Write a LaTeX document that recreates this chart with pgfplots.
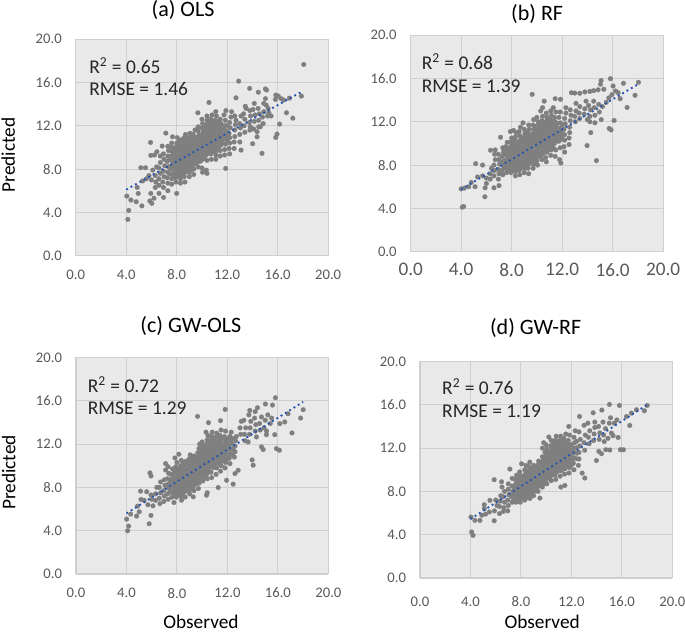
\documentclass[border=0pt]{standalone}
\usepackage{fontspec}
\setmainfont{Carlito}
\usepackage{pgfplots}
\pgfplotsset{compat=1.18}
\definecolor{panelbg}{HTML}{E9E9E9}
\definecolor{gridc}{HTML}{CFCFCF}
\definecolor{tickc}{HTML}{595959}
\definecolor{ptc}{HTML}{7F7F7F}
\definecolor{trend}{HTML}{2454B0}
\tikzset{note/.style={anchor=west, inner sep=0pt, font=\fontsize{14.6}{17}\selectfont, text=black!85}}
\pgfplotsset{
  panel/.style={
    scale only axis, width=189.3pt, height=162.4pt,
    xmin=0, xmax=20, ymin=0, ymax=20,
    xtick={0,4,8,12,16,20}, ytick={0,4,8,12,16,20},
    axis background/.style={fill=panelbg},
    grid=major, grid style={gridc, line width=0.8pt},
    axis line style={draw=gridc, line width=0.8pt},
    axis lines=left, axis line style={-},
    major tick length=0pt, clip=false, clip marker paths=true,
    every axis title shift=0pt,
    tick label style={text=tickc, font=\fontsize{11}{13}\selectfont},
    /pgf/number format/assume math mode=true,
    /pgf/number format/fixed, /pgf/number format/fixed zerofill, /pgf/number format/precision=1,
    y tick label style={xshift=-7pt},
    x tick label style={yshift=-7pt},
    title style={font=\fontsize{16.5}{19}\selectfont, anchor=center},
    xlabel style={font=\fontsize{14.5}{17}\selectfont, anchor=center, inner sep=0pt},
    ylabel style={font=\fontsize{14.5}{17}\selectfont, anchor=center},
  },
  pts/.style={only marks, color=ptc, mark=*, mark size=1.8pt, mark options={solid, fill=ptc, draw=ptc, line width=0.1pt, line join=round}},
  tl/.style={no marks, color=trend, line width=1.4pt, dash pattern=on 1.4pt off 2.4pt},
}
\begin{document}
\begin{tikzpicture}[x=1pt,y=1pt]
\useasboundingbox (0,0) rectangle (513.75,474.75);
% (a) OLS
\begin{axis}[panel, at={(56.8pt,283pt)}, anchor=south west,
  title={(a) OLS}, title style={at={(axis description cs:0.425,1.134)}},
  ylabel={Predicted}, ylabel style={at={(axis description cs:-0.267,0.465)}}]
\addplot[pts] coordinates {
(18.07,17.66)(12.91,16.12)(13.78,15.45)(14.47,15.1)(15.03,15.4)(15.12,15.3)(12.7,14.58)(10.56,14.15)(9.68,13.2)(5.93,10.46)(7.14,11.32)(7.67,10.98)(4.05,5.5)(4.37,5.14)(4.79,4.98)(4.2,4.18)(4.13,3.35)(5.24,4.6)(4.87,6.3)(4.95,5.75)(5.95,5.75)(5.87,5.05)(6.03,4.83)(6.2,5.3)(6.6,5.75)(6.96,5.38)(7.3,6.0)(8.0,5.75)(5.16,8.12)(5.53,8.12)(5.95,9.26)(6.24,9.3)(6.43,9.6)(6.85,10.12)(15.85,10.92)(15.95,11.23)(16.16,12.15)(14.76,9.45)(14.02,10.34)(11.88,8.06)(13.1,9.75)(17.2,12.7)(16.7,13.2)(17.88,14.74)(16.93,14.55)(15.85,14.83)(15.82,14.43)(16.27,14.5)(16.48,14.37)(16.05,14.75)(15.3,13.2)(15.48,12.9)(14.37,10.98)(14.37,11.45)(14.63,11.9)(13.84,11.9)(13.44,13.8)(14.15,14.06)(14.9,14.06)(15.03,14.5)(15.1,13.9)
(5.3,6.9)(5.6,7.1)(5.8,7.4)(6.0,7.0)(6.1,7.9)(6.3,6.3)(6.35,6.8)(6.3,7.4)(6.4,8.2)(6.6,6.5)(6.6,7.1)(6.7,7.6)(6.6,8.1)(6.7,8.6)(6.7,9.2)(6.95,6.3)(6.9,6.8)(7.0,7.3)(6.95,7.8)(7.05,8.3)(7.0,8.9)(6.95,9.4)(7.3,6.7)(7.25,7.2)(7.3,7.7)(7.35,8.2)(7.25,8.7)(7.3,9.2)(7.35,9.7)(7.3,10.1)
(7.6,6.6)(7.6,7.1)(7.65,7.5)(7.55,8.0)(7.65,8.4)(7.6,8.8)(7.55,9.2)(7.65,9.6)(7.6,10.0)(7.6,10.4)
(7.95,6.8)(7.9,7.2)(8.0,7.6)(7.95,8.0)(8.0,8.4)(7.9,8.8)(8.0,9.2)(7.95,9.6)(7.9,10.0)(8.0,10.4)(8.05,10.9)
(8.3,6.7)(8.3,7.1)(8.35,7.5)(8.25,7.9)(8.35,8.3)(8.3,8.7)(8.25,9.1)(8.35,9.5)(8.3,9.9)(8.3,10.3)(8.35,10.7)
(8.65,6.8)(8.6,7.3)(8.7,7.7)(8.65,8.1)(8.6,8.5)(8.7,8.9)(8.65,9.3)(8.6,9.7)(8.7,10.1)(8.65,10.5)(8.6,10.9)(8.7,11.2)
(9.0,7.3)(9.0,7.7)(9.05,8.1)(8.95,8.5)(9.05,8.9)(9.0,9.3)(8.95,9.7)(9.05,10.1)(9.0,10.5)(8.95,10.9)(9.05,11.3)
(9.35,7.5)(9.35,8.0)(9.3,8.4)(9.4,8.8)(9.3,9.2)(9.4,9.6)(9.35,10.0)(9.3,10.4)(9.4,10.8)(9.3,11.2)(9.45,11.6)
(9.7,8.2)(9.7,8.7)(9.75,9.1)(9.65,9.5)(9.75,9.9)(9.7,10.3)(9.65,10.7)(9.75,11.1)(9.7,11.5)(9.7,11.9)
(10.05,7.7)(10.0,8.1)(10.05,8.9)(10.0,9.4)(10.1,9.8)(10.0,10.2)(10.05,10.6)(10.0,11.0)(10.1,11.4)(10.0,11.8)(10.05,12.2)(10.0,12.6)
(10.4,7.6)(10.35,7.9)(10.4,8.8)(10.35,9.3)(10.45,9.7)(10.35,10.1)(10.4,10.5)(10.35,10.9)(10.45,11.3)(10.4,11.7)(10.35,12.1)(10.4,12.5)(10.4,12.9)
(10.75,8.9)(10.7,9.4)(10.8,9.8)(10.7,10.2)(10.8,10.6)(10.75,11.0)(10.7,11.4)(10.8,11.8)(10.75,12.2)(10.7,12.6)(10.8,13.0)
(11.1,8.9)(11.1,9.3)(11.15,9.7)(11.05,10.1)(11.15,10.5)(11.1,10.9)(11.05,11.3)(11.15,11.7)(11.1,12.1)(11.05,12.5)(11.15,12.9)(11.1,13.3)
(11.45,9.2)(11.45,9.7)(11.5,10.2)(11.4,10.6)(11.5,11.0)(11.45,11.4)(11.4,11.8)(11.5,12.2)(11.45,12.6)
(11.8,9.3)(11.8,9.8)(11.85,10.3)(11.75,10.8)(11.85,11.2)(11.8,11.6)(11.8,12.0)(11.85,12.5)(11.75,13.0)(11.9,13.4)
(12.2,9.4)(12.15,9.9)(12.2,10.4)(12.2,10.9)(12.15,11.3)(12.25,11.8)(12.2,12.3)(12.3,12.8)(12.35,13.3)
(12.55,9.9)(12.55,10.5)(12.6,11.0)(12.6,11.6)(12.65,12.1)(12.7,12.5)(12.6,12.9)
(13.0,10.5)(13.0,11.2)(13.05,11.8)(13.0,12.2)(13.1,12.9)(13.4,11.4)(13.35,12.0)(13.4,12.6)(13.3,13.1)(13.5,13.6)
(13.8,11.6)(13.75,12.3)(13.85,12.9)(13.8,13.4)(14.1,11.7)(14.15,12.4)(14.2,13.0)(14.05,13.5)(14.5,11.9)(14.5,12.5)(14.55,13.1)(14.45,13.6)(14.85,12.2)(14.8,12.8)(14.9,13.3)(15.2,12.9)(15.25,13.6)
(7.45,7.55)(7.42,8.2)(7.48,8.95)(7.78,7.38)(7.82,7.82)(7.76,8.22)(7.8,8.62)(7.84,9.02)(7.77,9.42)(7.8,9.82)(8.14,7.32)(8.18,7.72)(8.12,8.13)(8.16,8.52)(8.11,8.93)(8.17,9.31)(8.13,9.72)(8.15,10.12)(8.18,10.52)(8.48,7.52)(8.52,7.92)(8.47,8.33)(8.51,8.72)(8.49,9.12)(8.53,9.51)(8.48,9.92)(8.5,10.32)(8.83,7.92)(8.87,8.32)(8.82,8.72)(8.86,9.12)(8.84,9.53)(8.88,9.91)(8.83,10.32)(8.85,10.72)(9.18,7.93)(9.22,8.32)(9.17,8.73)(9.21,9.12)(9.19,9.52)(9.23,9.92)(9.18,10.33)(9.2,10.72)(9.22,11.12)(9.53,8.52)(9.57,8.93)(9.52,9.32)(9.56,9.73)(9.54,10.12)(9.58,10.53)(9.53,10.92)(9.88,8.72)(9.92,9.13)(9.87,9.52)(9.91,9.93)(9.89,10.32)(9.93,10.73)(9.88,11.12)(10.18,9.02)(10.22,9.43)(10.17,9.82)(10.21,10.23)(10.19,10.62)(10.23,11.03)(10.18,11.42)(10.2,11.82)(10.53,9.52)(10.57,9.93)(10.52,10.32)(10.56,10.73)(10.54,11.12)(10.58,11.53)(10.53,11.92)(10.55,12.32)(10.88,9.62)(10.92,10.03)(10.87,10.42)(10.91,10.83)(10.89,11.22)(10.93,11.63)(10.88,12.02)(10.9,12.42)(11.28,10.02)(11.32,10.43)(11.27,10.82)(11.31,11.23)(11.29,11.62)(11.33,12.03)(11.28,12.42)(11.58,10.42)(11.62,10.83)(11.57,11.22)(11.61,11.63)(11.59,12.02)(11.98,10.62)(12.02,11.03)(11.97,11.52)(12.01,12.02)
};
\addplot[tl] coordinates {(4,6.1)(18,15.2)};
\node[note] at (axis cs:1.06,17.54) {R\textsuperscript{2} = 0.65};
\node[note] at (axis cs:1.06,15.35) {RMSE = 1.46};
\end{axis}
% (b) RF
\begin{axis}[panel, at={(308pt,286pt)}, anchor=south west,
  title={(b) RF}, title style={at={(axis description cs:0.501,1.099)}},
  x tick label style={font=\fontsize{14.4}{17}\selectfont, yshift=2pt}]
\addplot[pts] coordinates {
(4.09,4.11)(4.2,4.17)(5.88,5.07)(4.0,5.8)(4.25,5.87)(4.6,6.0)(4.8,6.4)(5.1,6.0)(5.3,6.9)(5.7,7.0)(5.15,8.13)(5.7,8.0)(9.63,14.53)(14.72,8.41)(13.98,9.8)(14.27,11.0)(15.73,11.38)(15.88,11.25)(16.12,12.12)(17.15,13.32)(17.78,14.44)(18.05,15.64)(16.86,15.55)(15.83,15.98)(15.09,15.8)(15.04,15.46)(15.3,15.0)(16.04,15.3)(16.23,14.84)(16.44,14.68)(16.6,14.13)(12.74,14.68)(13.0,14.65)(13.4,14.63)(13.8,14.75)(14.2,14.8)(14.5,14.87)(14.85,14.95)(11.45,14.13)(11.87,14.07)(10.58,13.9)(7.12,10.57)(6.33,9.37)(6.7,9.4)(11.9,8.19)(15.7,14.2)(15.95,14.5)(15.5,13.8)(15.2,13.4)(14.95,12.9)(15.1,12.2)(14.6,11.9)(14.2,12.0)(14.0,12.2)(5.9,5.9)(6.0,6.3)(6.6,5.9)(7.0,6.1)(6.3,6.7)(6.0,6.8)
(6.3,7.2)(6.4,7.7)(6.6,7.0)(6.65,7.5)(6.6,8.0)(6.7,8.5)(6.65,9.0)(6.95,6.7)(7.0,7.2)(6.95,7.6)(7.05,8.1)(7.0,8.5)(6.95,9.0)(7.3,7.1)(7.25,7.5)(7.35,7.9)(7.3,8.3)(7.25,8.8)(7.35,9.2)(7.3,9.6)
(7.6,7.3)(7.6,7.7)(7.65,8.1)(7.55,8.5)(7.65,8.9)(7.6,9.3)(7.55,9.7)(7.65,10.1)(7.95,7.3)(7.9,7.7)(8.0,8.1)(7.95,8.5)(7.9,8.9)(8.0,9.3)(7.95,9.7)(7.9,10.1)(8.0,10.5)(7.9,11.1)(8.15,11.2)
(8.3,7.0)(8.3,7.4)(8.35,7.8)(8.25,8.2)(8.35,8.6)(8.3,9.0)(8.25,9.4)(8.35,9.8)(8.3,10.2)(8.3,10.6)(8.35,11.0)
(8.65,7.1)(8.6,7.5)(8.7,7.9)(8.65,8.3)(8.6,8.7)(8.7,9.1)(8.65,9.5)(8.6,9.9)(8.7,10.3)(8.65,10.7)(8.6,11.1)(8.7,11.5)(8.9,11.9)
(9.0,7.3)(9.05,7.7)(8.95,8.1)(9.05,8.5)(9.0,8.9)(8.95,9.3)(9.05,9.7)(9.0,10.1)(8.95,10.5)(9.05,10.9)(9.0,11.3)
(9.35,7.2)(9.3,7.7)(9.4,8.1)(9.3,8.5)(9.4,8.9)(9.35,9.3)(9.3,9.7)(9.4,10.1)(9.35,10.5)(9.3,10.9)(9.4,11.3)(9.35,11.7)
(9.7,7.7)(9.75,8.1)(9.65,8.5)(9.75,8.9)(9.7,9.3)(9.65,9.7)(9.75,10.1)(9.7,10.5)(9.65,10.9)(9.75,11.3)(9.7,11.7)(9.75,12.2)
(10.05,8.0)(10.0,8.4)(10.1,8.8)(10.0,9.2)(10.05,9.6)(10.0,10.0)(10.1,10.4)(10.0,10.8)(10.05,11.2)(10.0,11.6)(10.1,12.0)(10.0,12.4)
(10.4,8.5)(10.35,8.9)(10.45,9.3)(10.35,9.7)(10.4,10.1)(10.35,10.5)(10.45,10.9)(10.4,11.3)(10.35,11.7)(10.4,12.1)(10.45,12.5)(10.3,13.0)(10.45,13.3)
(10.75,8.3)(10.7,8.7)(10.8,9.2)(10.7,9.6)(10.8,10.0)(10.75,10.4)(10.7,10.8)(10.8,11.2)(10.75,11.6)(10.7,12.0)(10.8,12.4)(10.75,12.8)
(11.1,8.9)(11.15,9.4)(11.05,9.8)(11.15,10.2)(11.1,10.6)(11.05,11.0)(11.15,11.4)(11.1,11.8)(11.05,12.2)(11.15,12.6)(11.1,13.0)(11.3,13.3)
(11.45,8.8)(11.5,9.4)(11.4,10.0)(11.5,10.4)(11.45,10.8)(11.4,11.2)(11.5,11.6)(11.45,12.0)(11.4,12.4)(11.5,12.9)
(11.8,8.5)(11.85,9.6)(11.75,10.2)(11.85,10.6)(11.8,11.0)(11.8,11.4)(11.85,11.9)(11.75,12.4)(11.85,12.9)
(12.2,9.2)(12.15,9.7)(12.2,10.3)(12.2,10.8)(12.15,11.3)(12.25,11.8)(12.2,12.3)(12.3,12.8)(12.3,13.3)(12.55,9.9)(12.55,10.5)(12.6,11.0)(12.6,11.5)(12.65,12.1)(12.7,12.6)(12.65,13.1)
(13.05,12.0)(13.0,12.5)(13.1,13.0)(13.1,13.7)(13.4,12.3)(13.35,12.8)(13.4,13.4)(13.75,12.7)(13.8,13.2)(13.9,13.9)(14.2,12.5)(14.25,13.1)(14.1,13.5)(14.6,12.6)(14.55,13.3)(14.5,13.9)(14.9,13.6)
(7.45,7.75)(7.42,8.4)(7.48,9.0)(7.78,7.52)(7.82,7.92)(7.76,8.32)(7.8,8.72)(7.84,9.12)(7.77,9.52)(8.14,7.52)(8.18,7.92)(8.12,8.33)(8.16,8.72)(8.11,9.13)(8.17,9.51)(8.13,9.92)(8.15,10.32)(8.48,7.72)(8.52,8.12)(8.47,8.53)(8.51,8.92)(8.49,9.32)(8.53,9.71)(8.48,10.12)(8.83,7.72)(8.87,8.12)(8.82,8.52)(8.86,8.92)(8.84,9.33)(8.88,9.71)(8.83,10.12)(8.85,10.52)(9.18,7.83)(9.22,8.22)(9.17,8.63)(9.21,9.02)(9.19,9.42)(9.23,9.82)(9.18,10.23)(9.2,10.62)(9.22,11.02)(9.53,8.32)(9.57,8.73)(9.52,9.12)(9.56,9.53)(9.54,9.92)(9.58,10.33)(9.53,10.72)(9.88,8.52)(9.92,8.93)(9.87,9.32)(9.91,9.73)(9.89,10.12)(9.93,10.53)(9.88,10.92)(9.9,11.42)(10.18,8.82)(10.22,9.23)(10.17,9.62)(10.21,10.03)(10.19,10.42)(10.23,10.83)(10.18,11.22)(10.2,11.62)(10.53,9.12)(10.57,9.53)(10.52,9.92)(10.56,10.33)(10.54,10.72)(10.58,11.13)(10.53,11.52)(10.55,11.92)(10.88,9.42)(10.92,9.83)(10.87,10.22)(10.91,10.63)(10.89,11.02)(10.93,11.43)(10.88,11.82)(10.9,12.22)(11.28,9.62)(11.32,10.03)(11.27,10.42)(11.31,10.83)(11.29,11.22)(11.33,11.63)(11.28,12.02)(11.58,10.22)(11.62,10.63)(11.57,11.02)(11.61,11.43)(11.59,11.82)(11.98,10.42)(12.02,10.83)(11.97,11.22)(12.01,11.72)
};
\addplot[tl] coordinates {(4,5.75)(18,15.45)};
\node[note] at (axis cs:0.87,17.52) {R\textsuperscript{2} = 0.68};
\node[note] at (axis cs:0.87,15.24) {RMSE = 1.39};
\end{axis}
% (c) GW-OLS
\begin{axis}[panel, at={(57pt,44.25pt)}, anchor=south west,
  title={(c) GW-OLS}, title style={at={(axis description cs:0.455,1.147)}},
  xlabel={Observed}, xlabel style={at={(axis description cs:0.495,-0.223)}},
  ylabel={Predicted}, ylabel style={at={(axis description cs:-0.267,0.469)}}]
\addplot[pts] coordinates {
(4.01,5.07)(4.33,5.53)(4.17,4.42)(4.09,3.99)(4.8,5.35)(5.01,5.75)(4.88,6.27)(5.15,6.88)(5.12,7.65)(5.8,4.64)(5.94,5.41)(5.86,9.34)(5.94,9.06)(7.1,10.2)(8.15,11.06)(7.84,10.72)(9.63,14.56)(10.5,13.98)(11.45,14.16)(11.82,15.2)(15.8,16.28)(15.01,15.7)(15.57,15.6)(14.38,15.36)(13.77,15.11)(18.0,15.18)(17.8,14.4)(17.12,13.03)(16.8,14.8)(16.54,14.04)(16.15,13.89)(15.88,11.58)(16.12,11.43)(14.7,11.74)(14.83,11.5)(13.96,10.54)(14.04,10.05)(12.45,8.3)(12.85,9.58)(12.6,9.28)(11.93,8.66)(11.27,7.99)(10.4,7.5)(10.34,7.28)(9.29,7.13)(8.36,6.82)(7.76,6.6)(14.3,12.66)(13.64,12.2)(15.09,12.87)(15.75,12.87)(5.4,6.8)(5.7,6.4)(5.6,7.6)(5.95,7.3)(6.1,6.3)(6.0,6.9)
(6.3,6.8)(6.3,7.4)(6.4,8.0)(6.65,6.5)(6.6,7.0)(6.7,7.5)(6.6,8.0)(6.7,8.5)(6.95,6.7)(7.0,7.2)(6.95,7.7)(7.05,8.2)(7.0,8.7)(7.1,9.6)(7.3,6.9)(7.25,7.4)(7.35,7.9)(7.3,8.3)(7.25,8.8)(7.35,9.3)(7.3,9.9)
(7.6,7.1)(7.65,7.6)(7.55,8.0)(7.65,8.4)(7.6,8.8)(7.55,9.2)(7.65,9.7)(7.95,7.1)(7.9,7.5)(8.0,7.9)(7.95,8.3)(7.9,8.7)(8.0,9.1)(7.95,9.5)(7.9,9.9)(8.0,10.3)
(8.3,7.2)(8.35,7.6)(8.25,8.0)(8.35,8.4)(8.3,8.8)(8.25,9.2)(8.35,9.6)(8.3,10.0)(8.35,10.5)(8.65,7.1)(8.6,7.6)(8.7,8.0)(8.65,8.4)(8.6,8.8)(8.7,9.2)(8.65,9.6)(8.6,10.0)(8.7,10.4)
(9.0,7.4)(9.05,7.8)(8.95,8.2)(9.05,8.6)(9.0,9.0)(8.95,9.4)(9.05,9.8)(9.0,10.2)(8.95,10.6)(9.05,11.0)
(9.35,7.7)(9.3,8.1)(9.4,8.5)(9.3,8.9)(9.4,9.3)(9.35,9.7)(9.3,10.1)(9.4,10.5)(9.35,10.9)(9.7,7.9)(9.75,8.4)(9.65,8.8)(9.75,9.2)(9.7,9.6)(9.65,10.0)(9.75,10.4)(9.7,10.8)(9.65,11.2)(9.8,12.0)(9.75,11.6)
(10.05,8.6)(10.0,9.0)(10.1,9.4)(10.0,9.8)(10.05,10.2)(10.0,10.6)(10.1,11.0)(10.0,11.4)(10.05,11.8)(10.0,12.2)
(10.4,8.8)(10.35,9.2)(10.45,9.6)(10.35,10.0)(10.4,10.4)(10.35,10.8)(10.45,11.2)(10.4,11.6)(10.35,12.0)(10.4,12.4)(10.45,12.8)(10.3,13.1)
(10.75,8.9)(10.7,9.4)(10.8,9.9)(10.7,10.3)(10.8,10.7)(10.75,11.1)(10.7,11.5)(10.8,11.9)(10.75,12.3)(10.7,12.7)(10.8,13.1)
(11.1,9.2)(11.15,9.8)(11.05,10.2)(11.15,10.6)(11.1,11.0)(11.05,11.4)(11.15,11.8)(11.1,12.2)(11.05,12.6)(11.15,13.0)
(11.45,9.5)(11.5,10.0)(11.4,10.4)(11.5,10.8)(11.45,11.2)(11.4,11.6)(11.5,12.0)(11.45,12.4)(11.4,12.8)(11.5,13.3)
(11.8,9.8)(11.85,10.3)(11.75,10.7)(11.85,11.1)(11.8,11.5)(11.8,11.9)(11.85,12.3)(11.75,12.7)(11.85,13.2)
(12.2,10.2)(12.15,10.7)(12.2,11.1)(12.2,11.5)(12.15,11.9)(12.25,12.3)(12.2,12.7)(12.3,13.1)(12.55,10.8)(12.6,11.3)(12.6,11.8)(12.65,12.3)(12.7,12.7)
(13.05,12.9)(13.0,13.5)(13.1,14.1)(13.4,12.3)(13.35,12.9)(13.45,13.5)(13.3,14.2)(13.75,12.9)(13.8,13.5)(13.85,14.1)(13.7,14.7)(14.2,13.2)(14.25,13.8)(14.15,14.4)(14.2,15.0)(14.6,13.3)(14.55,13.9)(14.7,14.5)(14.9,13.5)(15.0,14.2)(15.2,14.7)(15.4,13.9)(15.5,14.4)(15.1,13.2)
(7.45,7.55)(7.42,8.1)(7.48,8.6)(7.78,7.32)(7.82,7.72)(7.76,8.12)(7.8,8.52)(7.84,8.92)(7.77,9.32)(8.14,7.32)(8.18,7.72)(8.12,8.13)(8.16,8.52)(8.11,8.93)(8.17,9.31)(8.13,9.72)(8.48,7.42)(8.52,7.82)(8.47,8.23)(8.51,8.62)(8.49,9.02)(8.53,9.41)(8.48,9.82)(8.5,10.22)(8.83,7.72)(8.87,8.12)(8.82,8.52)(8.86,8.92)(8.84,9.33)(8.88,9.71)(8.83,10.12)(9.18,7.93)(9.22,8.32)(9.17,8.73)(9.21,9.12)(9.19,9.52)(9.23,9.92)(9.18,10.33)(9.2,10.72)(9.53,8.32)(9.57,8.73)(9.52,9.12)(9.56,9.53)(9.54,9.92)(9.58,10.33)(9.53,10.72)(9.88,8.62)(9.92,9.03)(9.87,9.42)(9.91,9.83)(9.89,10.22)(9.93,10.63)(9.88,11.02)(9.9,11.42)(10.18,9.02)(10.22,9.43)(10.17,9.82)(10.21,10.23)(10.19,10.62)(10.23,11.03)(10.18,11.42)(10.2,11.82)(10.53,9.42)(10.57,9.83)(10.52,10.22)(10.56,10.63)(10.54,11.02)(10.58,11.43)(10.53,11.82)(10.55,12.22)(10.88,9.82)(10.92,10.23)(10.87,10.62)(10.91,11.03)(10.89,11.42)(10.93,11.83)(10.88,12.22)(10.9,12.62)(11.28,10.22)(11.32,10.63)(11.27,11.02)(11.31,11.43)(11.29,11.82)(11.33,12.23)(11.28,12.62)(11.58,10.42)(11.62,10.83)(11.57,11.22)(11.61,11.63)(11.59,12.02)(11.6,12.52)(11.98,10.62)(12.02,11.03)(11.97,11.52)(12.01,12.02)(12.0,12.52)(12.4,11.02)(12.42,11.52)(12.38,12.02)(12.4,12.52)
};
\addplot[tl] coordinates {(4,5.6)(18,15.9)};
\node[note] at (axis cs:0.92,17.51) {R\textsuperscript{2} = 0.72};
\node[note] at (axis cs:0.92,15.27) {RMSE = 1.29};
\end{axis}
% (d) GW-RF
\begin{axis}[panel, at={(315pt,41.25pt)}, anchor=south west,
  title={(d) GW-RF}, title style={at={(axis description cs:0.458,1.154)}},
  xlabel={Observed}, xlabel style={at={(axis description cs:0.484,-0.202)}},
  x tick label style={yshift=-3.5pt}]
\addplot[pts] coordinates {
(4.09,4.25)(4.2,3.94)(4.04,5.63)(4.35,5.32)(4.75,5.32)(5.09,6.77)(5.54,7.17)(5.88,5.29)(5.88,9.08)(6.46,8.89)(7.12,10.06)(8.05,10.55)(15.01,16.03)(15.8,15.94)(18.0,15.94)(17.78,15.45)(17.15,15.54)(16.62,14.09)(16.75,15.23)(16.36,14.92)(13.72,15.26)(14.41,15.51)(12.64,14.92)(11.79,14.0)(10.21,13.02)(15.88,11.85)(16.12,11.85)(15.04,11.82)(14.72,11.85)(13.98,10.86)(14.38,11.48)(14.17,11.69)(13.06,9.23)(12.85,9.69)(11.48,8.55)(11.16,8.4)(9.5,7.38)(8.71,7.35)(15.7,12.98)(15.17,13.38)(15.3,13.14)(4.9,5.8)(5.2,5.9)(5.1,6.4)(5.5,6.1)(5.9,6.2)(6.1,6.7)(6.0,7.2)(6.3,5.95)(6.6,6.15)
(6.3,6.6)(6.35,7.1)(6.4,7.6)(6.5,8.4)(6.65,6.5)(6.7,7.0)(6.6,7.5)(6.7,8.0)(6.95,6.2)(7.0,6.7)(6.95,7.2)(7.05,7.7)(7.0,8.2)(7.0,8.7)(7.3,7.0)(7.25,7.5)(7.35,8.0)(7.3,8.5)(7.3,9.2)
(7.6,7.0)(7.65,7.5)(7.55,7.9)(7.65,8.3)(7.6,8.7)(7.55,9.1)(7.65,9.5)(7.95,7.0)(7.9,7.4)(8.0,7.8)(7.95,8.2)(7.9,8.6)(8.0,9.0)(7.95,9.4)(7.9,9.8)(8.3,7.2)(8.35,7.6)(8.25,8.0)(8.35,8.4)(8.3,8.8)(8.25,9.2)(8.35,9.6)(8.3,10.0)(8.4,10.4)
(8.65,7.5)(8.6,7.9)(8.7,8.3)(8.65,8.7)(8.6,9.1)(8.7,9.5)(8.65,9.9)(8.6,10.3)(8.7,10.7)(9.0,7.6)(9.05,8.0)(8.95,8.4)(9.05,8.8)(9.0,9.2)(8.95,9.6)(9.05,10.0)(9.0,10.4)
(9.35,8.0)(9.3,8.4)(9.4,8.8)(9.3,9.2)(9.4,9.6)(9.35,10.0)(9.3,10.4)(9.4,10.8)(9.7,8.4)(9.75,8.8)(9.65,9.2)(9.75,9.6)(9.7,10.0)(9.65,10.4)(9.75,10.8)(9.7,11.2)(9.7,12.0)(9.8,12.5)
(10.05,8.7)(10.0,9.1)(10.1,9.5)(10.0,9.9)(10.05,10.3)(10.0,10.7)(10.1,11.1)(10.0,11.5)(10.05,11.9)(10.0,12.3)(10.4,9.0)(10.35,9.4)(10.45,9.8)(10.35,10.2)(10.4,10.6)(10.35,11.0)(10.45,11.4)(10.4,11.8)(10.35,12.2)(10.4,12.7)
(10.75,9.1)(10.7,9.5)(10.8,9.9)(10.7,10.3)(10.8,10.7)(10.75,11.1)(10.7,11.5)(10.8,11.9)(10.75,12.3)(10.7,12.7)(10.8,13.1)(11.1,9.4)(11.15,9.9)(11.05,10.3)(11.15,10.7)(11.1,11.1)(11.05,11.5)(11.15,11.9)(11.1,12.3)(11.05,12.7)(11.15,13.1)
(11.45,9.6)(11.5,10.1)(11.4,10.5)(11.5,10.9)(11.45,11.3)(11.4,11.7)(11.5,12.1)(11.45,12.5)(11.4,12.9)(11.55,13.3)(11.8,9.7)(11.85,10.2)(11.75,10.7)(11.85,11.1)(11.8,11.5)(11.8,11.9)(11.85,12.3)(11.75,12.7)(11.85,13.2)
(12.2,10.0)(12.15,10.6)(12.2,11.1)(12.2,11.6)(12.15,12.0)(12.25,12.5)(12.2,13.0)(12.3,13.6)(12.55,10.4)(12.6,11.0)(12.6,11.6)(12.65,12.2)(12.7,12.8)(12.6,13.5)
(13.05,11.8)(13.0,12.5)(13.1,13.2)(13.0,14.1)(13.4,12.4)(13.35,13.0)(13.45,13.6)(13.3,14.3)(13.75,12.7)(13.8,13.3)(13.85,13.9)(13.85,14.4)(14.2,12.8)(14.25,13.4)(14.15,14.0)(14.6,12.6)(14.55,13.2)(14.7,13.8)(14.5,14.4)(14.9,12.9)(15.0,14.3)(15.1,14.8)(15.4,14.3)(15.6,14.6)
(7.45,7.25)(7.42,7.7)(7.48,8.25)(7.78,7.22)(7.82,7.62)(7.76,8.02)(7.8,8.42)(7.84,8.82)(7.77,9.22)(8.14,7.42)(8.18,7.82)(8.12,8.23)(8.16,8.62)(8.11,9.03)(8.17,9.41)(8.48,7.42)(8.52,7.82)(8.47,8.23)(8.51,8.62)(8.49,9.02)(8.53,9.41)(8.48,9.82)(8.83,7.72)(8.87,8.12)(8.82,8.52)(8.86,8.92)(8.84,9.33)(8.88,9.71)(8.83,10.12)(9.18,8.23)(9.22,8.62)(9.17,9.03)(9.21,9.42)(9.19,9.82)(9.23,10.22)(9.53,8.52)(9.57,8.93)(9.52,9.32)(9.56,9.73)(9.54,10.12)(9.58,10.53)(9.88,8.72)(9.92,9.13)(9.87,9.52)(9.91,9.93)(9.89,10.32)(9.93,10.73)(9.88,11.12)(9.9,11.62)(10.18,9.22)(10.22,9.63)(10.17,10.02)(10.21,10.43)(10.19,10.82)(10.23,11.23)(10.18,11.62)(10.53,9.62)(10.57,10.03)(10.52,10.42)(10.56,10.83)(10.54,11.22)(10.58,11.63)(10.53,12.02)(10.55,12.42)(10.88,9.82)(10.92,10.23)(10.87,10.62)(10.91,11.03)(10.89,11.42)(10.93,11.83)(10.88,12.22)(10.9,12.62)(11.28,10.02)(11.32,10.43)(11.27,10.82)(11.31,11.23)(11.29,11.62)(11.33,12.03)(11.28,12.42)(11.3,12.82)(11.58,10.42)(11.62,10.83)(11.57,11.22)(11.61,11.63)(11.59,12.02)(11.6,12.52)(11.98,10.42)(12.02,10.83)(11.97,11.32)(12.01,11.82)(12.0,12.32)(12.4,11.02)(12.42,11.52)(12.38,12.02)(12.4,12.62)
};
\addplot[tl] coordinates {(4,5.45)(18,16.0)};
\node[note] at (axis cs:1.74,17.63) {R\textsuperscript{2} = 0.76};
\node[note] at (axis cs:1.74,15.38) {RMSE = 1.19};
\end{axis}
\end{tikzpicture}
\end{document}
